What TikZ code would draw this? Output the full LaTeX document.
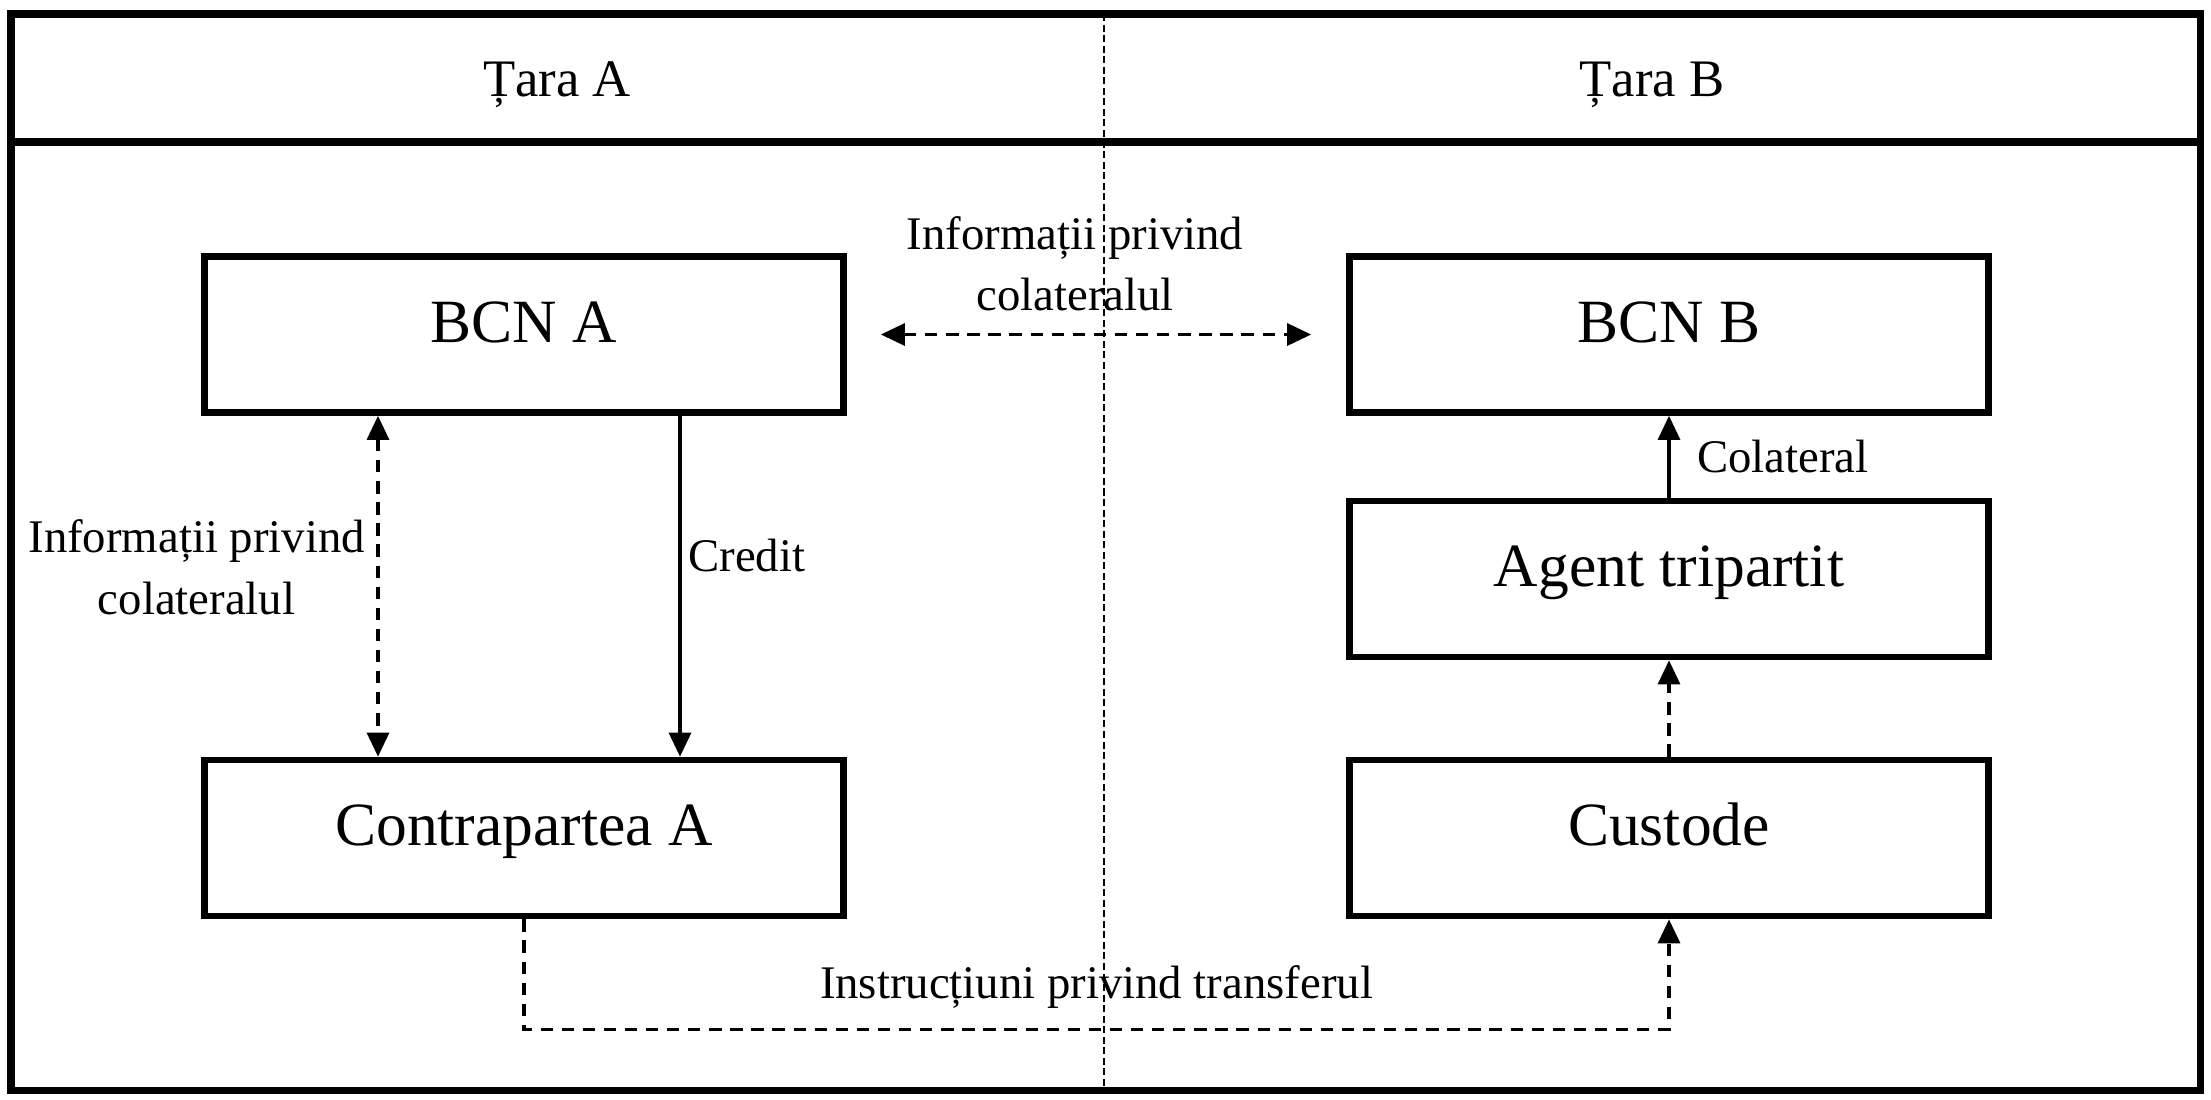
\documentclass[tikz,border=0pt]{standalone}
\usepackage{fontspec}
\setmainfont{Liberation Serif}
\usetikzlibrary{arrows.meta,positioning}

\begin{document}
\begin{tikzpicture}[font=\fontsize{13.3}{17.4}\selectfont,
  >={Triangle[length=2.4mm,width=2.2mm]},
  box/.style={draw,line width=1.9pt,minimum width=6.39cm,minimum height=1.56cm,
    text height=0.7em,text depth=0.25em,font=\fontsize{17.5}{21}\selectfont},
  link/.style={line width=0.9pt},
  infolink/.style={link,dash pattern=on 3.5pt off 2.5pt}]
\useasboundingbox (0,0) rectangle (22.11,-10.99);
% frame, header row and the border between the two countries
\draw[line width=2pt] (0.11,-0.14) rectangle (22.00,-10.90);
\draw[line width=2pt] (0.11,-1.42) -- (22.00,-1.42);
\draw[line width=0.8pt,dash pattern=on 2pt off 1pt] (11.04,-0.14) -- (11.04,-10.90);
\node[font=\fontsize{15}{18}\selectfont,anchor=base] (taraA) at (5.57,-0.96) {Țara A};
\node[font=\fontsize{15}{18}\selectfont,anchor=base] (taraB) at (16.52,-0.96) {Țara B};
\foreach \n/\lab/\x/\y in {bcnA/BCN A/5.24/-3.345, cpA/Contrapartea A/5.24/-8.38,
  bcnB/BCN B/16.69/-3.345, agent/Agent tripartit/16.69/-5.79, cust/Custode/16.69/-8.38}{
  \node[box] (\n) at (\x,\y) {\lab};
}
% connectors
\draw[infolink,<->] ([xshift=0.34cm]bcnA.east) -- node[above,xshift=-0.21cm,yshift=0.1cm,align=center] (infoTop) {Informații privind\\colateralul} ([xshift=-0.35cm]bcnB.west);
\draw[infolink,<->] ([xshift=-1.46cm]bcnA.south) -- node[midway,left,yshift=0.19cm,align=center] (infoLeft) {Informații privind\\colateralul} ([xshift=-1.46cm]cpA.north);
\draw[link,->] ([xshift=1.56cm]bcnA.south) -- node[pos=0.41,right,xshift=-0.05cm] (credit) {Credit} ([xshift=1.56cm]cpA.north);
\draw[link,->] (agent.north) -- node[right,xshift=0.15cm] (colat) {Colateral} (bcnB.south);
\draw[infolink,->] (cust.north) -- (agent.south);
\draw[infolink,->] (cpA.south) -- ++(0,-1.10) -| node[pos=0.25,above,yshift=0.08cm] (instr) {Instrucțiuni privind transferul} (cust.south);
\end{tikzpicture}
\end{document}
